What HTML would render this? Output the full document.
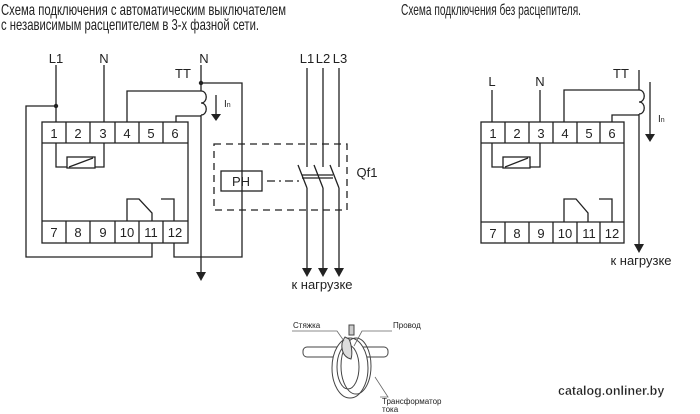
<!DOCTYPE html>
<html><head><meta charset="utf-8"><style>
html,body{margin:0;padding:0;background:#fff;width:700px;height:414px;overflow:hidden}
svg{display:block}
text{font-family:"Liberation Sans",Arial,sans-serif;fill:#222}
</style></head><body>
<svg width="700" height="414" viewBox="0 0 700 414" xmlns="http://www.w3.org/2000/svg">
<g font-size="16">
<text x="1" y="15" textLength="285" lengthAdjust="spacingAndGlyphs">Схема подключения с автоматическим выключателем</text>
<text x="1" y="30" textLength="258" lengthAdjust="spacingAndGlyphs">с независимым расцепителем в 3-х фазной сети.</text>
<text x="401" y="15" textLength="180" lengthAdjust="spacingAndGlyphs">Схема подключения без расцепителя.</text>
</g>
<g stroke="#222" stroke-width="1.3" fill="none">
<rect x="42" y="122" width="146" height="121"/>
<line x1="42" y1="143" x2="188" y2="143"/>
<line x1="42" y1="221" x2="188" y2="221"/>
<path d="M66 122V143M90 122V143M115 122V143M139 122V143M163 122V143"/>
<path d="M66 221V243M90 221V243M115 221V243M139 221V243M163 221V243"/>
<path d="M56 65V122M104 65V122"/>
<path d="M56 106H26V257H152V243"/>
<path d="M127 122V91H201"/>
<path d="M176 122V116H201"/>
<path d="M201 91c7 0 7 12 0 12c7 0 7 12 0 12"/>
<path d="M201 65V91M201 115V278"/>
<path d="M201 83H242V257H174V243"/>
<rect x="221" y="171" width="41" height="20"/>
<path d="M56 143V167H67M95 167H104V143"/>
<rect x="67" y="157" width="28" height="11"/>
<line x1="69" y1="167" x2="93" y2="158"/>
<path d="M127 221V199H139L152 213V221"/>
<path d="M174 221V199H161"/>
<rect x="214" y="144" width="133" height="66" stroke-dasharray="7,5"/>
<path d="M267 181H300" stroke-dasharray="8,4,2,4"/>
<path d="M307 68V167M298 165L307 188M307 188V272"/>
<path d="M323 68V167M314 165L323 188M323 188V272"/>
<path d="M339 68V167M330 165L339 188M339 188V272"/>
<path d="M302 175H333M302 178H333"/>
<path d="M216 95V116"/>
<rect x="481" y="122" width="143" height="121"/>
<line x1="481" y1="143" x2="624" y2="143"/>
<line x1="481" y1="222" x2="624" y2="222"/>
<path d="M505 122V143M529 122V143M553 122V143M577 122V143M600 122V143"/>
<path d="M505 222V243M529 222V243M553 222V243M577 222V243M600 222V243"/>
<path d="M492 90V122M540 90V122"/>
<path d="M564 122V90H639"/>
<path d="M612 122V115H639"/>
<path d="M639 90c7 0 7 12 0 12c7 0 7 12 0 12"/>
<path d="M639 70V90M639 114V246"/>
<path d="M492 143V167H503M530 167H540V143"/>
<rect x="503" y="157" width="27" height="11"/>
<line x1="505" y1="167" x2="528" y2="158"/>
<path d="M564 222V199H576L588 213V222"/>
<path d="M612 222V199H599"/>
<path d="M650 82V136"/>
</g>
<g fill="#222">
<circle cx="56" cy="106" r="2.2"/><circle cx="201" cy="83" r="2.2"/>
<path d="M196 272h10l-5 9z"/>
<path d="M302 268h10l-5 9z"/><path d="M318 268h10l-5 9z"/><path d="M334 268h10l-5 9z"/>
<path d="M211 114h10l-5 7z"/>
<path d="M634 244h10l-5 9z"/>
<path d="M645 134h10l-5 8z"/>
</g>
<g font-size="13" text-anchor="middle">
<text x="56" y="63">L1</text><text x="104" y="63">N</text><text x="204" y="63">N</text>
<text x="183" y="78">TT</text>
<text x="307" y="63">L1</text><text x="323" y="63">L2</text><text x="340" y="63">L3</text>
<text x="54" y="138">1</text><text x="78" y="138">2</text><text x="103" y="138">3</text><text x="127" y="138">4</text><text x="151" y="138">5</text><text x="175" y="138">6</text>
<text x="54" y="237">7</text><text x="78" y="237">8</text><text x="103" y="237">9</text><text x="127" y="237">10</text><text x="151" y="237">11</text><text x="175" y="237">12</text>
<text x="241" y="186">PH</text>
<text x="367" y="177">Qf1</text>
<text x="322" y="289">к нагрузке</text>
<text x="492" y="86">L</text><text x="540" y="86">N</text><text x="621" y="78">TT</text>
<text x="493" y="138">1</text><text x="517" y="138">2</text><text x="541" y="138">3</text><text x="565" y="138">4</text><text x="589" y="138">5</text><text x="612" y="138">6</text>
<text x="493" y="238">7</text><text x="517" y="238">8</text><text x="541" y="238">9</text><text x="565" y="238">10</text><text x="589" y="238">11</text><text x="612" y="238">12</text>
<text x="641" y="265">к нагрузке</text>
</g>
<text x="224" y="107" font-size="10">I<tspan font-size="7">n</tspan></text>
<text x="658" y="122" font-size="10">I<tspan font-size="7">n</tspan></text>
<g stroke="#444" stroke-width="1" fill="#fff">
<rect x="303" y="347" width="85" height="10" rx="4"/>
<ellipse cx="350" cy="368" rx="18" ry="30"/>
<ellipse cx="348" cy="367" rx="11" ry="22"/>
<ellipse cx="356" cy="366" rx="15" ry="28" fill="none"/>
<path d="M345 337c-6 8-3 20 6 22c2-6 0-16-2-20z" fill="#ddd"/>
<rect x="349" y="325" width="5" height="10" fill="#ccc"/>
</g>
<g stroke="#666" stroke-width="0.8" fill="none">
<path d="M292 331h45l7 10M392 331h-30l-8 15M380 397h8l-13-20"/>
</g>
<g font-size="8" fill="#333">
<text x="293" y="328">Стяжка</text>
<text x="393" y="328">Провод</text>
<text x="382" y="404">Трансформатор</text>
<text x="382" y="412">тока</text>
</g>
<text x="558" y="395" font-size="12.5" font-weight="bold" fill="#444" stroke="#fff" stroke-width="0.3">catalog.onliner.by</text>
</svg>
</body></html>
